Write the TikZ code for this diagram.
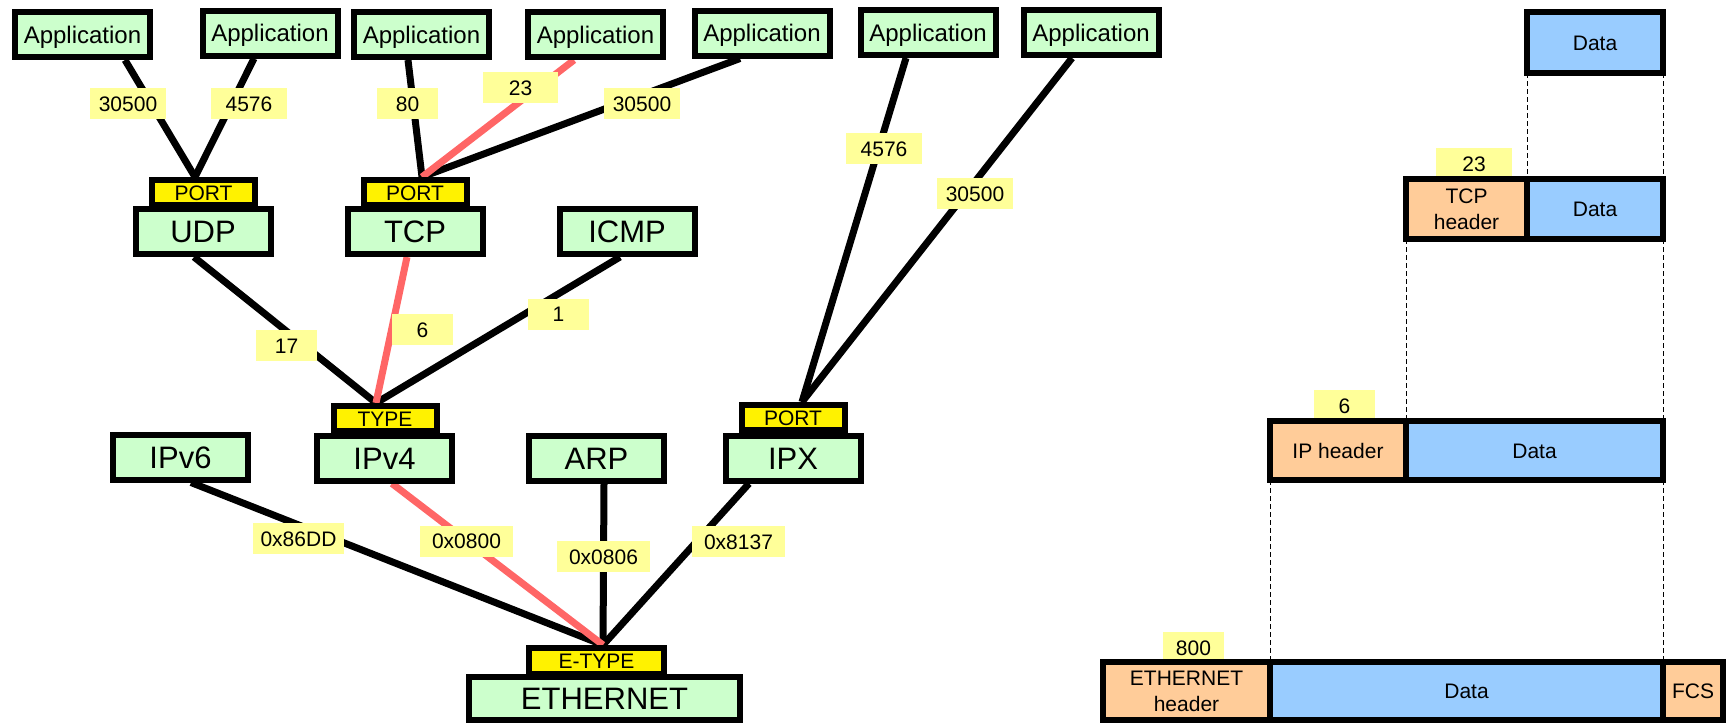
\documentclass[tikz,border=0pt]{standalone}
\usepackage{fontspec}
\setmainfont{Liberation Sans}
\usetikzlibrary{calc,backgrounds}
\definecolor{pgreen}{HTML}{CCFFCC}
\definecolor{lyel}{HTML}{FFFF99}
\definecolor{hotred}{HTML}{FF6666}
\definecolor{hdrorange}{HTML}{FFCC99}
\definecolor{datblue}{HTML}{99CCFF}
\begin{document}
\begin{tikzpicture}[x=1pt,y=-1pt,
  app/.style={draw, line width=6pt, fill=pgreen, inner sep=0pt, minimum width=135pt, minimum height=45pt, font=\fontsize{24}{24}\selectfont, text height=17pt, text depth=0pt},
  proto/.style={app, font=\fontsize{31}{31}\selectfont, text height=22pt},
  tagbox/.style={draw, line width=6pt, fill=yellow, inner sep=0pt, minimum width=103pt, minimum height=25pt, font=\fontsize{21}{21}\selectfont, text height=15pt, text depth=0pt},
  lbl/.style={fill=lyel, inner sep=0pt, minimum height=31pt, minimum width=76pt, font=\fontsize{21}{21}\selectfont, text height=15pt, text depth=0pt},
  conn/.style={line width=7pt},
  hot/.style={conn, draw=hotred},
  cell/.style={draw, line width=6pt, inner sep=0pt, outer sep=0pt, align=center, font=\fontsize{21}{26}\selectfont},
  one/.style={text height=15pt, text depth=0pt},
  hdr/.style={cell, fill=hdrorange},
  dat/.style={cell, fill=datblue},
  guide/.style={line width=1pt, dash pattern=on 5pt off 3pt}
]
\useasboundingbox (0,0) rectangle (1729,724);

% application boxes
\node[app] (a1) at (82.5,34.5) {Application};
\node[app] (a2) at (270,33) {Application};
\node[app] (a3) at (421.5,34.5) {Application};
\node[app] (a4) at (595.5,34.5) {Application};
\node[app] (a5) at (762,33) {Application};
\node[app] (a6) at (928,32.5) {Application};
\node[app] (a7) at (1091,32.5) {Application};

% selector tags
\node[tagbox] (udpport) at (203.5,192.5) {PORT};
\node[tagbox] (tcpport) at (415,192.5) {PORT};
\node[tagbox] (ipv4type) at (385,418.5) {TYPE};
\node[tagbox] (ipxport) at (793,417.5) {PORT};
\node[tagbox, minimum width=135pt, minimum height=26pt] (etype) at (596.5,661) {E-TYPE};

% protocol boxes
\node[proto] (udp) at (203,231.5) {UDP};
\node[proto] (tcp) at (415,231.5) {TCP};
\node[proto] (icmp) at (627,231.5) {ICMP};
\node[proto] (ipv6) at (180.5,457) {IPv6};
\node[proto] (ipv4) at (384.5,458) {IPv4};
\node[proto] (arp) at (596.5,458) {ARP};
\node[proto] (ipx) at (793,458) {IPX};
\node[proto, minimum width=271pt, minimum height=43pt] (eth) at (604.5,698.5) {ETHERNET};

% connectors
\begin{scope}[on background layer]
\draw[conn] ([xshift=42.5pt]a1.south) -- ([xshift=-8.5pt]udpport.north);
\draw[conn] ([xshift=-16pt]a2.south) -- ([xshift=-8.5pt]udpport.north);
\draw[conn] ([xshift=-13.5pt]a3.south) -- ([xshift=7pt]tcpport.north);
\draw[conn] ([xshift=-22pt]a5.south) -- ([xshift=7pt]tcpport.north);
\draw[hot] ([xshift=-21.5pt]a4.south) -- ([xshift=7pt]tcpport.north);
\draw[conn] ([xshift=-22pt]a6.south) -- ([xshift=9pt]ipxport.north);
\draw[conn] ([xshift=-19pt]a7.south) -- ([xshift=9pt]ipxport.north);
\draw[conn] ([xshift=-9pt]udp.south) -- ([xshift=-9pt]ipv4type.north);
\draw[conn] ([xshift=-7pt]icmp.south) -- ([xshift=-9pt]ipv4type.north);
\draw[hot] ([xshift=-8pt]tcp.south) -- ([xshift=-9pt]ipv4type.north);
\draw[conn] ([xshift=10.5pt]ipv6.south) -- ([xshift=6.5pt]etype.north);
\draw[conn] ([xshift=7.5pt]arp.south) -- ([xshift=6.5pt]etype.north);
\draw[conn] ([xshift=-44pt]ipx.south) -- ([xshift=6.5pt]etype.north);
\draw[hot] ([xshift=7.5pt]ipv4.south) -- ([xshift=6.5pt]etype.north);
\end{scope}

% connector labels
\node[lbl] (l1) at (128,103.5) {30500};
\node[lbl] (l2) at (249,103.5) {4576};
\node[lbl, minimum width=61pt] (l3) at (407.5,103.5) {80};
\node[lbl, minimum width=75pt] (l4) at (520.5,87.5) {23};
\node[lbl] (l5) at (642,103.5) {30500};
\node[lbl] (l6) at (884,148.5) {4576};
\node[lbl] (l7) at (975,193.5) {30500};
\node[lbl, minimum width=61pt] (l8) at (286.5,345.5) {17};
\node[lbl, minimum width=61pt] (l9) at (422.5,329.5) {6};
\node[lbl, minimum width=61pt] (l10) at (558.5,314) {1};
\node[lbl, minimum width=91pt] (l11) at (298.5,538.5) {0x86DD};
\node[lbl, minimum width=93pt] (l12) at (466.5,541) {0x0800};
\node[lbl, minimum width=93pt] (l13) at (603.5,556.5) {0x0806};
\node[lbl, minimum width=93pt] (l14) at (738.5,541.5) {0x8137};

% packet labels
\node[lbl] (p23) at (1474,163.5) {23};
\node[lbl, minimum width=61pt] (p6) at (1344.5,405.5) {6};
\node[lbl, minimum width=61pt] (p800) at (1193.5,647.5) {800};

% packets
\node[dat, one, minimum width=136pt, minimum height=61pt] (d1) at (1595,42.5) {Data};
\node[hdr, minimum width=121pt, minimum height=60pt] (tcph) at (1466.5,209) {TCP\\header};
\node[dat, one, minimum width=136pt, minimum height=60pt] (d2) at (1595,209) {Data};
\node[hdr, one, minimum width=136pt, minimum height=59pt] (iph) at (1338,450.5) {IP header};
\node[dat, one, minimum width=257pt, minimum height=59pt] (d3) at (1534.5,450.5) {Data};
\node[hdr, minimum width=167pt, minimum height=58pt] (ethh) at (1186.5,691) {ETHERNET\\header};
\node[dat, one, minimum width=393pt, minimum height=58pt] (d4) at (1466.5,691) {Data};
\node[hdr, one, minimum width=60pt, minimum height=58pt] (fcs) at (1693,691) {FCS};

\begin{scope}[on background layer]
\draw[guide] (d1.south west) -- (d2.north west);
\draw[guide] (d1.south east) -- (d2.north east);
\draw[guide] (tcph.south west) -- (iph.north east);
\draw[guide] (d2.south east) -- (d3.north east);
\draw[guide] (iph.south west) -- (d4.north west);
\draw[guide] (d3.south east) -- (d4.north east);
\end{scope}
\end{tikzpicture}
\end{document}
